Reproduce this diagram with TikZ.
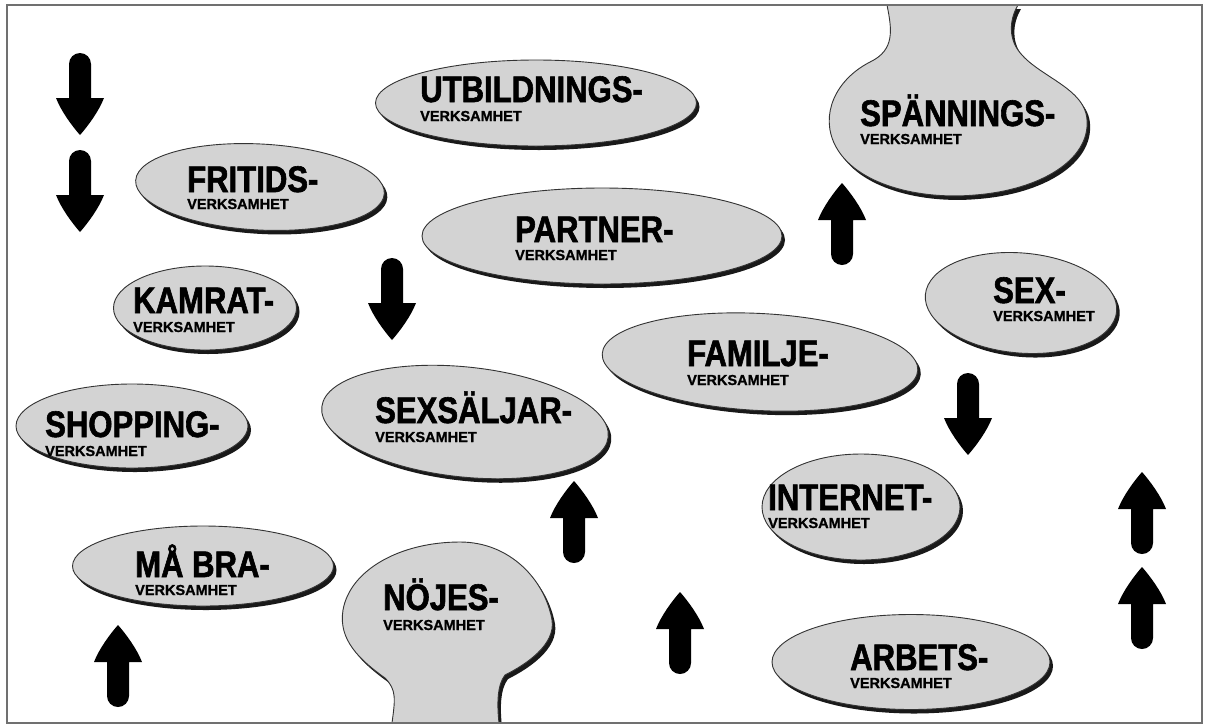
\documentclass[tikz,border=0pt]{standalone}
\usepackage{fontspec}
\setmainfont{Liberation Sans}[BoldFeatures={FakeBold=1.2}]
\newfontfamily\titlefont{Liberation Sans}[FakeStretch=0.84, BoldFeatures={FakeBold=1.6}]
\usetikzlibrary{shapes.geometric,shadows,positioning}
\definecolor{blobgray}{RGB}{211,211,211}
\definecolor{framegray}{RGB}{112,112,112}

\begin{document}
\begin{tikzpicture}[
    x=1pt, y=-1pt,
    % grey bubble with a black shadow underneath
    blob/.style={ellipse, draw=black!80, line width=0.9pt, fill=blobgray, inner sep=0pt,
                 drop shadow={shadow xshift=3pt, shadow yshift=-4pt, fill=black!90, opacity=1}},
    blobpath/.style={draw=black!80, line width=0.9pt, fill=blobgray,
                 drop shadow={shadow xshift=3pt, shadow yshift=-4pt, fill=black!90, opacity=1}},
    % big word and the small word below it
    headtext/.style={anchor=base west, inner sep=0pt, font=\titlefont\bfseries\fontsize{37}{38}\selectfont},
    subtext/.style={anchor=base west, inner sep=0pt, font=\bfseries\fontsize{14.5}{16}\selectfont},
    % thick black arrow, tip at the origin, pointing up
    uparrow/.pic={\fill[black] (0,0) .. controls (8,9) and (19,24) .. (24,37) -- (11,37) -- (11,71)
                  arc[start angle=0, end angle=180, radius=11] -- (-11,37) -- (-24,37)
                  .. controls (-19,24) and (-8,9) .. (0,0) -- cycle;}
  ]
  \useasboundingbox (0,0) rectangle (1206,726);
  \fill[white] (0,0) rectangle (1206,726);

  \begin{scope}
    \clip (7,5) rectangle (1202,723);
    %Bubbles
    \node[blob, minimum width=321pt, minimum height=86pt]              (utb) at (536,103)  {};
    \node[blob, minimum width=249pt, minimum height=86pt, rotate=-3]   (fri) at (260,187)  {};
    \node[blob, minimum width=360pt, minimum height=96pt]              (par) at (602,236)  {};
    \node[blob, minimum width=183pt, minimum height=84pt]              (kam) at (205,308)  {};
    \node[blob, minimum width=192pt, minimum height=100pt, rotate=-5]  (sex) at (1021,303) {};
    \node[blob, minimum width=316pt, minimum height=97pt, rotate=-3]   (fam) at (760,362)  {};
    \node[blob, minimum width=232pt, minimum height=84pt]              (sho) at (132,426)  {};
    \node[blob, minimum width=288pt, minimum height=110pt, rotate=-6]  (sxs) at (465,422)  {};
    \node[blob, minimum width=198pt, minimum height=106pt]             (int) at (861,507)  {};
    \node[blob, minimum width=261pt, minimum height=80pt]              (mab) at (203,566)  {};
    \node[blob, minimum width=278pt, minimum height=95pt]              (arb) at (911,662)  {};
    % bubbles running into the frame
    \path[blobpath] (887,5) .. controls (892,30) and (895,50) .. (870,62)
                    .. controls (835,80) and (820,115) .. (835,145)
                    .. controls (855,185) and (920,200) .. (975,195)
                    .. controls (1040,190) and (1090,160) .. (1087,120)
                    .. controls (1085,85) and (1030,75) .. (1015,45)
                    .. controls (1008,30) and (1012,15) .. (1018,5) -- cycle;
    \path[blobpath] (392,723) .. controls (395,700) and (397,690) .. (385,678)
                    .. controls (360,660) and (338,640) .. (343,610)
                    .. controls (350,570) and (400,542) .. (460,542)
                    .. controls (510,542) and (545,580) .. (552,620)
                    .. controls (556,645) and (525,665) .. (505,675)
                    .. controls (497,685) and (497,705) .. (499,723) -- cycle;
  \end{scope}

  %Labels
  \node[headtext] (utbT) at (420,102) {UTBILDNINGS-};
  \node[subtext]  (utbS) at ([yshift=-19pt]utbT.base west) {VERKSAMHET};
  \node[headtext] (friT) at (187,192) {FRITIDS-};
  \node[subtext]  (friS) at ([yshift=-17pt]friT.base west) {VERKSAMHET};
  \node[headtext] (parT) at (515,242) {PARTNER-};
  \node[subtext]  (parS) at ([yshift=-18pt]parT.base west) {VERKSAMHET};
  \node[headtext] (spaT) at (860,126) {SPÄNNINGS-};
  \node[subtext]  (spaS) at ([yshift=-18pt]spaT.base west) {VERKSAMHET};
  \node[headtext] (kamT) at (133,313) {KAMRAT-};
  \node[subtext]  (kamS) at ([yshift=-19pt]kamT.base west) {VERKSAMHET};
  \node[headtext] (sexT) at (993,303) {SEX-};
  \node[subtext]  (sexS) at ([yshift=-18pt]sexT.base west) {VERKSAMHET};
  \node[headtext] (famT) at (687,366) {FAMILJE-};
  \node[subtext]  (famS) at ([yshift=-19pt]famT.base west) {VERKSAMHET};
  \node[headtext] (shoT) at (45,437)  {SHOPPING-};
  \node[subtext]  (shoS) at ([yshift=-19pt]shoT.base west) {VERKSAMHET};
  \node[headtext] (sxsT) at (375,423) {SEXSÄLJAR-};
  \node[subtext]  (sxsS) at ([yshift=-19pt]sxsT.base west) {VERKSAMHET};
  \node[headtext] (intT) at (768,510) {INTERNET-};
  \node[subtext]  (intS) at ([yshift=-18pt]intT.base west) {VERKSAMHET};
  \node[headtext] (mabT) at (135,577) {MÅ BRA-};
  \node[subtext]  (mabS) at ([yshift=-18pt]mabT.base west) {VERKSAMHET};
  \node[headtext] (nojT) at (383,610) {NÖJES-};
  \node[subtext]  (nojS) at ([yshift=-20pt]nojT.base west) {VERKSAMHET};
  \node[headtext] (arbT) at (850,670) {ARBETS-};
  \node[subtext]  (arbS) at ([yshift=-18pt]arbT.base west) {VERKSAMHET};

  %Arrows
  \pic[rotate=180] (dwnA) at (80,135)   {uparrow};
  \pic[rotate=180] (dwnB) at (80,232)   {uparrow};
  \pic[rotate=180] (dwnC) at (392,340)  {uparrow};
  \pic[rotate=180] (dwnD) at (968,455)  {uparrow};
  \pic             (upA)  at (842,183)  {uparrow};
  \pic             (upB)  at (574,481)  {uparrow};
  \pic             (upC)  at (680,592)  {uparrow};
  \pic             (upD)  at (118,625)  {uparrow};
  \pic             (upE)  at (1142,472) {uparrow};
  \pic             (upF)  at (1142,567) {uparrow};

  % frame
  \draw[framegray, line width=2pt] (7,5) rectangle (1202,723);
\end{tikzpicture}
\end{document}
